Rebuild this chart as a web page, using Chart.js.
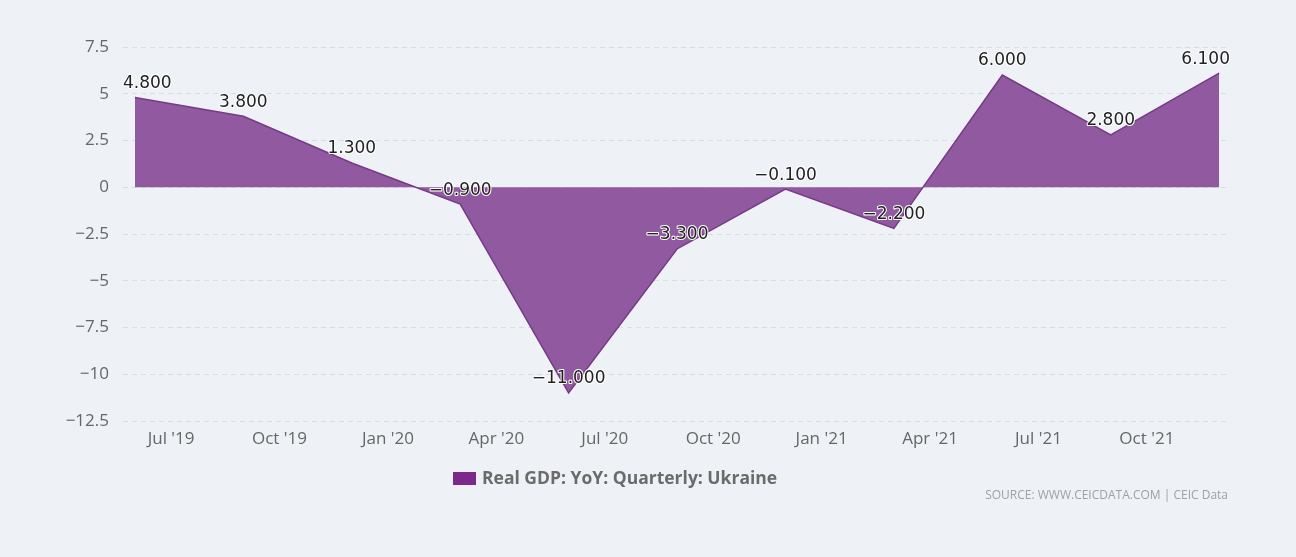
<!DOCTYPE html>
<html>
<head>
<meta charset="utf-8">
<script src="https://cdn.jsdelivr.net/npm/chart.js@4"></script>
<style>
    html, body { margin: 0; padding: 0; background: #eef2f6; }
    #wrap { position: relative; width: 1296px; height: 557px; }
    #legend { position: absolute; left: 453px; top: 465px; font: bold 17.5px "Open Sans", sans-serif; color: #6b6b6b; }
    #legend span { display: inline-block; width: 23px; height: 13px; background: #7b2a8c; vertical-align: -1px; margin-right: 6px; }
    #source { position: absolute; right: 68px; top: 486px; font: 12px "Open Sans", sans-serif; color: #a0a0a0; }
</style>
</head>
<body>
<div id="wrap">
    <canvas id="chart" width="1296" height="557"></canvas>
    <div id="legend"><span></span>Real GDP: YoY: Quarterly: Ukraine</div>
    <div id="source">SOURCE: WWW.CEICDATA.COM | CEIC Data</div>
</div>
<script>
// quarterly readings (month of observation)
const periods = ['2019-06', '2019-09', '2019-12', '2020-03', '2020-06', '2020-09',
                 '2020-12', '2021-03', '2021-06', '2021-09', '2021-12'];
const gdpValues = [4.8, 3.8, 1.3, -0.9, -11.0, -3.3, -0.1, -2.2, 6.0, 2.8, 6.1];

// x axis ticks
const tickPeriods = ['2019-07', '2019-10', '2020-01', '2020-04', '2020-07', '2020-10',
                     '2021-01', '2021-04', '2021-07', '2021-10'];
const tickLabels = ["Jul '19", "Oct '19", "Jan '20", "Apr '20", "Jul '20", "Oct '20",
                    "Jan '21", "Apr '21", "Jul '21", "Oct '21"];

// months since Jan 2019
function monthIndex(p) {
    const parts = p.split('-');
    return (parseInt(parts[0]) - 2019) * 12 + (parseInt(parts[1]) - 1);
}

const points = periods.map((p, i) => ({ x: monthIndex(p), y: gdpValues[i] }));
const tickPos = tickPeriods.map(monthIndex);

// value labels with white halo, kept inside the plot area
const valueLabels = {
    id: 'valueLabels',
    afterDatasetsDraw(chart) {
        const ctx = chart.ctx;
        const area = chart.chartArea;
        const meta = chart.getDatasetMeta(0);
        ctx.save();
        ctx.font = '17px "DejaVu Sans", sans-serif';
        ctx.textBaseline = 'middle';
        ctx.textAlign = 'center';
        ctx.lineJoin = 'round';
        meta.data.forEach((pt, i) => {
            const txt = gdpValues[i].toFixed(3).replace('-', '\u2212');
            const w = ctx.measureText(txt).width;
            let x = pt.x;
            if (x - w / 2 < area.left) x = area.left + w / 2;
            if (x + w / 2 > area.right) x = area.right - w / 2;
            const y = pt.y - 14;
            ctx.strokeStyle = '#ffffff';
            ctx.lineWidth = 2;
            ctx.strokeText(txt, x, y);
            ctx.fillStyle = '#222222';
            ctx.fillText(txt, x, y);
        });
        ctx.restore();
    }
};

new Chart(document.getElementById('chart'), {
    type: 'line',
    data: {
        datasets: [{
            label: 'Real GDP: YoY: Quarterly: Ukraine',
            data: points,
            borderColor: 'rgb(118, 58, 134)',
            backgroundColor: 'rgb(145, 89, 160)',
            borderWidth: 1.5,
            fill: 'origin',
            pointRadius: 0,
            tension: 0
        }]
    },
    options: {
        responsive: false,
        animation: false,
        layout: { padding: { top: 47, right: 66, left: 0, bottom: 0 } },
        plugins: {
            legend: { display: false },
            tooltip: { enabled: false }
        },
        scales: {
            x: {
                type: 'linear',
                min: 4.67,
                max: 35.3,
                afterBuildTicks: scale => {
                    scale.ticks = tickPos.map(v => ({ value: v }));
                },
                afterFit: scale => { scale.height = 136; },
                grid: { display: false, drawTicks: false },
                border: { display: false },
                ticks: {
                    padding: 8,
                    color: '#666666',
                    font: { family: '"Open Sans", sans-serif', size: 17 },
                    maxRotation: 0,
                    autoSkip: false,
                    callback: v => tickLabels[tickPos.indexOf(v)]
                }
            },
            y: {
                min: -12.5,
                max: 7.5,
                afterFit: scale => { scale.width = 123; },
                grid: { color: 'rgb(216, 221, 227)', drawTicks: false, lineWidth: 1 },
                border: { display: false, dash: [5, 4] },
                ticks: {
                    stepSize: 2.5,
                    padding: 14,
                    color: '#666666',
                    font: { family: '"Open Sans", sans-serif', size: 17 },
                    callback: v => String(v).replace('-', '\u2212')
                }
            }
        }
    },
    plugins: [valueLabels]
});
</script>
</body>
</html>
